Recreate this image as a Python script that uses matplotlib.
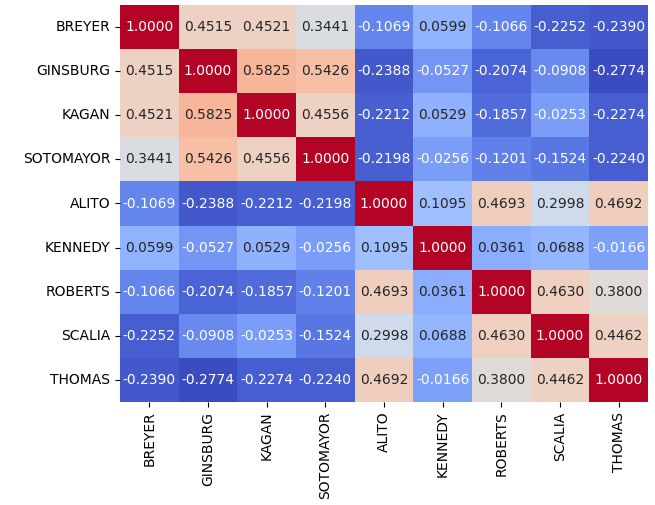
import matplotlib
matplotlib.use("Agg")
import matplotlib.pyplot as plt
import seaborn as sns
import numpy as np
import pandas as pd

justices = ["BREYER", "GINSBURG", "KAGAN", "SOTOMAYOR", "ALITO", "KENNEDY", "ROBERTS", "SCALIA", "THOMAS"]

breyer    = [1.0000, 0.4515, 0.4521, 0.3441, -0.1069, 0.0599, -0.1066, -0.2252, -0.2390]
ginsburg  = [0.4515, 1.0000, 0.5825, 0.5426, -0.2388, -0.0527, -0.2074, -0.0908, -0.2774]
kagan     = [0.4521, 0.5825, 1.0000, 0.4556, -0.2212, 0.0529, -0.1857, -0.0253, -0.2274]
sotomayor = [0.3441, 0.5426, 0.4556, 1.0000, -0.2198, -0.0256, -0.1201, -0.1524, -0.2240]
alito     = [-0.1069, -0.2388, -0.2212, -0.2198, 1.0000, 0.1095, 0.4693, 0.2998, 0.4692]
kennedy   = [0.0599, -0.0527, 0.0529, -0.0256, 0.1095, 1.0000, 0.0361, 0.0688, -0.0166]
roberts   = [-0.1066, -0.2074, -0.1857, -0.1201, 0.4693, 0.0361, 1.0000, 0.4630, 0.3800]
scalia    = [-0.2252, -0.0908, -0.0253, -0.1524, 0.2998, 0.0688, 0.4630, 1.0000, 0.4462]
thomas    = [-0.2390, -0.2774, -0.2274, -0.2240, 0.4692, -0.0166, 0.3800, 0.4462, 1.0000]

df = pd.DataFrame([breyer, ginsburg, kagan, sotomayor, alito, kennedy, roberts, scalia, thomas],
                  index=justices, columns=justices)

fig = plt.figure(figsize=(6.55, 5.05), dpi=100)
ax = fig.add_axes([120/655, 1-402/505, (648-120)/655, (402-5)/505])
sns.heatmap(df, ax=ax, cmap="coolwarm", annot=True, fmt=".4f", cbar=False,
            annot_kws={"fontsize": 10})
ax.tick_params(axis="both", labelsize=10)
plt.setp(ax.get_xticklabels(), rotation=90)
plt.setp(ax.get_yticklabels(), rotation=0)
fig.savefig("out.png", dpi=100)
